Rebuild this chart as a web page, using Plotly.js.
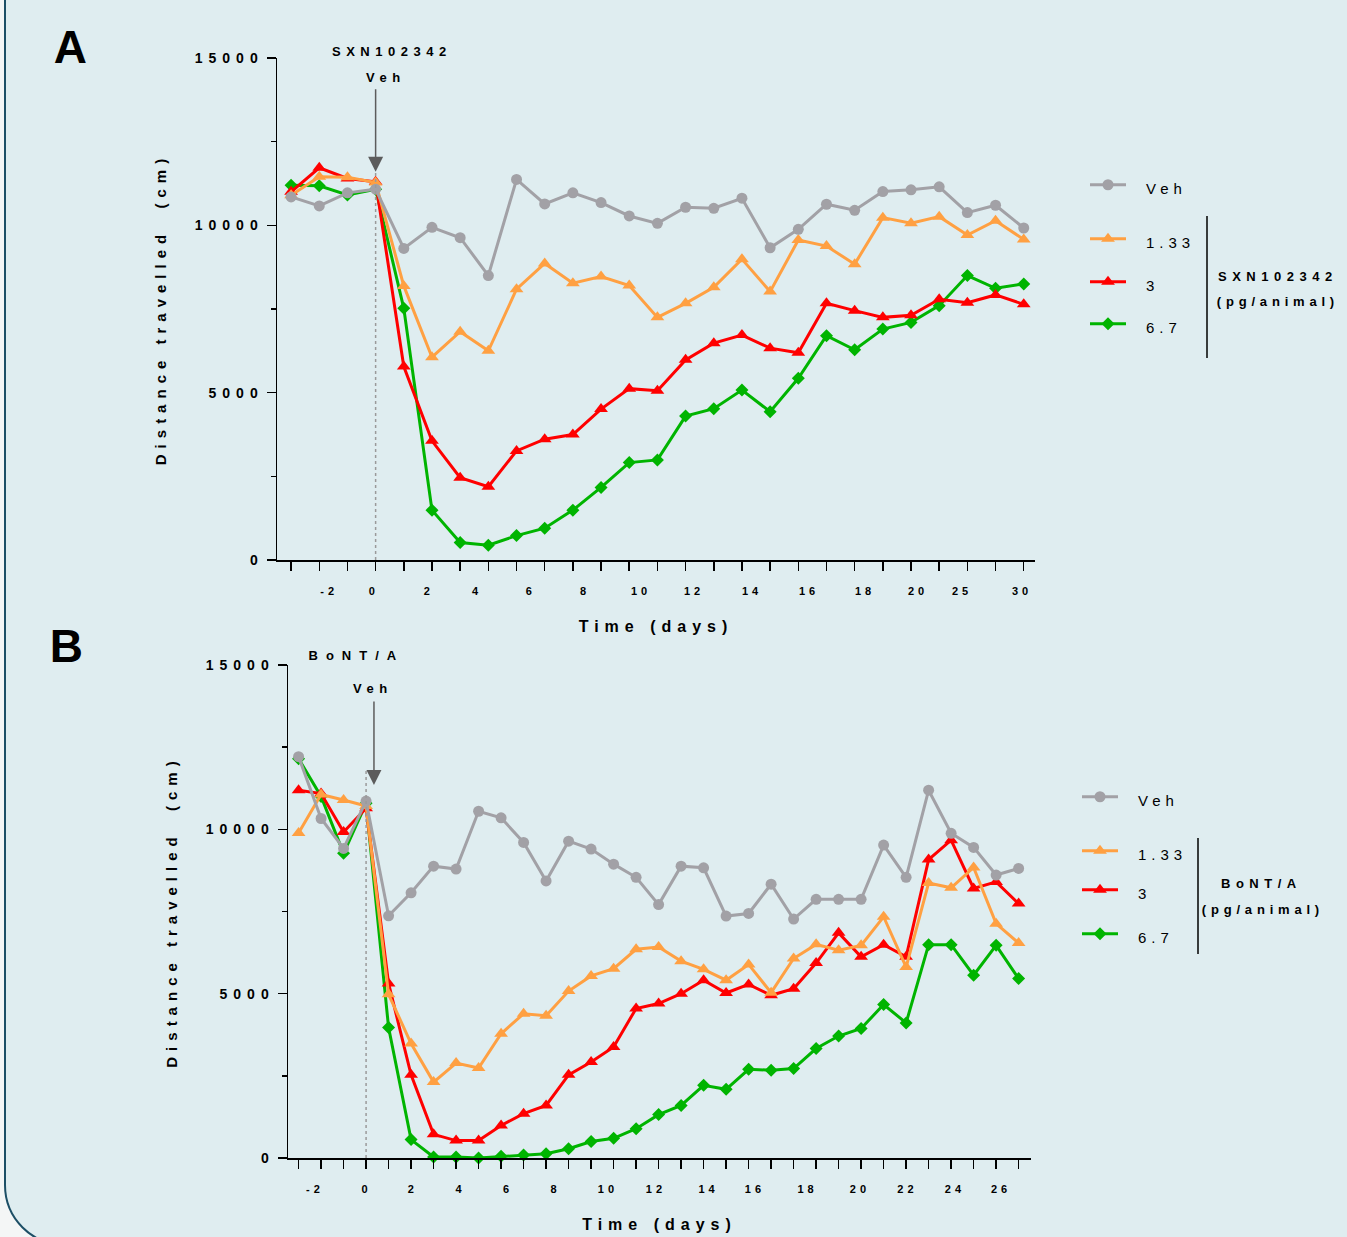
<!DOCTYPE html>
<html>
<head>
<meta charset="utf-8">
<script src="https://cdn.plot.ly/plotly-3.0.1.min.js"></script>
<style>
  html, body { margin: 0; padding: 0; background: #f4f6f6; }
  #chart { width: 1347px; height: 1237px; }
  /* spaced-out lettering used throughout the figure */
  g[class^="x"][class$="tick"] text { letter-spacing: 4px; }
  g[class^="y"][class$="tick"] text { letter-spacing: 6px; }
  text[class$="title"] { letter-spacing: 6px; }
  .infolayer g[class^="legend"] .scrollbox { clip-path: none !important; }
  .legendtext, .infolayer g[class^="legend"] text { letter-spacing: 5px; transform: translate(15px, 3px); }
  .annotation-text { letter-spacing: 5.5px; }
  g.annotation[data-index="0"] text, g.annotation[data-index="1"] text { letter-spacing: 0; }
  g.annotation[data-index="4"] text { letter-spacing: 8px; }
  g.annotation[data-index="9"] text, g.annotation[data-index="11"] text { letter-spacing: 4.8px; }
</style>
</head>
<body>
<div id="chart"></div>
<script>
// ---------- Panel A: SXN102342 ----------
const sessionA = [-3, -2, -1, 0, 1, 2, 3, 4, 5, 6, 7, 8, 9, 10, 11, 12, 13, 14, 15, 16, 17, 18, 19, 20, 21, 22, 23];
const vehA     = [10850, 10580, 10970, 11080, 9310, 9940, 9630, 8500, 11370, 10640, 10970, 10680, 10280, 10060, 10540, 10510, 10810, 9330, 9880, 10630, 10450, 11010, 11060, 11150, 10380, 10600, 9920];
const doseA133 = [10900, 11450, 11440, 11280, 8190, 6060, 6820, 6250, 8090, 8860, 8270, 8470, 8200, 7250, 7670, 8150, 8990, 8020, 9560, 9380, 8840, 10230, 10060, 10260, 9710, 10140, 9580];
const doseA3   = [11000, 11720, 11400, 11300, 5780, 3560, 2460, 2190, 3260, 3610, 3750, 4510, 5120, 5060, 5980, 6480, 6720, 6330, 6190, 7670, 7450, 7250, 7310, 7790, 7690, 7920, 7640];
const doseA67  = [11200, 11180, 10910, 11080, 7520, 1490, 520, 440, 730, 950, 1490, 2170, 2910, 2990, 4300, 4520, 5080, 4430, 5430, 6700, 6280, 6900, 7100, 7600, 8500, 8120, 8250];
const tickTextA = ['-2', '0', '2', '4', '6', '8', '10', '12', '14', '16', '18', '20', '25', '30'];
const tickPosA  = [-1.65, -0.06, 1.89, 3.6, 5.51, 7.43, 9.42, 11.3, 13.36, 15.38, 17.37, 19.25, 20.81, 22.94];

// ---------- Panel B: BoNT/A ----------
const sessionB = [-3, -2, -1, 0, 1, 2, 3, 4, 5, 6, 7, 8, 9, 10, 11, 12, 13, 14, 15, 16, 17, 18, 19, 20, 21, 22, 23, 24, 25, 26, 27, 28, 29];
const vehB     = [12210, 10330, 9420, 10860, 7370, 8070, 8880, 8790, 10550, 10350, 9600, 8430, 9640, 9400, 8940, 8540, 7710, 8880, 8830, 7360, 7440, 8330, 7270, 7870, 7870, 7870, 9520, 8540, 11190, 9880, 9450, 8610, 8810];
const doseB133 = [9890, 11060, 10890, 10710, 4980, 3480, 2310, 2890, 2740, 3780, 4390, 4330, 5080, 5540, 5760, 6350, 6420, 5990, 5740, 5410, 5890, 5030, 6070, 6500, 6320, 6470, 7340, 5810, 8370, 8220, 8840, 7130, 6540];
const doseB3   = [11190, 11090, 9920, 10640, 5310, 2530, 720, 530, 530, 990, 1350, 1600, 2530, 2920, 3380, 4550, 4700, 5000, 5410, 5020, 5280, 4950, 5150, 5930, 6850, 6120, 6490, 6120, 9080, 9670, 8200, 8400, 7740];
const doseB67  = [12150, 11000, 9270, 10790, 3970, 560, 30, 30, 0, 50, 90, 130, 280, 500, 600, 890, 1320, 1600, 2210, 2090, 2700, 2670, 2720, 3330, 3710, 3940, 4670, 4110, 6490, 6490, 5560, 6470, 5460];
const tickTextB = ['-2', '0', '2', '4', '6', '8', '10', '12', '14', '16', '18', '20', '22', '24', '26'];
const tickPosB  = [-2.27, 0.02, 2.08, 4.2, 6.31, 8.42, 10.75, 12.88, 15.22, 17.28, 19.62, 21.95, 24.06, 26.17, 28.22];

const groupNames = ['Veh', '1.33', '3', '6.7'];
const colors = ['#a2a1a6', '#ffa042', '#ff0000', '#00b400'];
const symbols = ['circle', 'triangle-up', 'triangle-up', 'diamond'];
const sizes = [11, 12, 12, 10];

const W = 1347, H = 1237;
const px = v => v / W;
const py = v => 1 - v / H;
const FONT = '"Liberation Sans", Arial, Helvetica, sans-serif';

function series(xs, ys, i, xa, ya, legendId) {
  return {
    x: xs, y: ys, name: groupNames[i], type: 'scatter', mode: 'lines+markers',
    xaxis: xa, yaxis: ya, legend: legendId, cliponaxis: false,
    line: { color: colors[i], width: 3 },
    marker: { symbol: symbols[i], size: sizes[i], color: colors[i] }
  };
}

// draw order: highest dose first, vehicle on top
const traces = [
  series(sessionA, doseA67, 3, 'x', 'y', 'legend4'),
  series(sessionA, doseA3, 2, 'x', 'y', 'legend3'),
  series(sessionA, doseA133, 1, 'x', 'y', 'legend2'),
  series(sessionA, vehA, 0, 'x', 'y', 'legend'),
  series(sessionB, doseB67, 3, 'x2', 'y2', 'legend8'),
  series(sessionB, doseB3, 2, 'x2', 'y2', 'legend7'),
  series(sessionB, doseB133, 1, 'x2', 'y2', 'legend6'),
  series(sessionB, vehB, 0, 'x2', 'y2', 'legend5')
];

function xAxis(domain, range, anchor, ticks, pos, text) {
  return {
    domain: domain, range: range, anchor: anchor,
    showline: true, linecolor: '#000', linewidth: 1.5,
    showgrid: false, zeroline: false, fixedrange: true,
    tickmode: 'array', tickvals: pos, ticktext: text,
    ticks: 'outside', ticklen: 20, tickcolor: 'rgba(0,0,0,0)',
    tickfont: { family: FONT, size: 11, weight: 'bold', color: '#000' },
    minor: { tickmode: 'array', tickvals: ticks, ticks: 'outside', ticklen: 9, tickwidth: 1.5, tickcolor: '#000' },
    title: { text: 'Time (days)', font: { family: FONT, size: 16, weight: 'bold', color: '#000' }, standoff: 25 }
  };
}

function yAxis(domain, anchor) {
  return {
    domain: domain, range: [0, 15000], anchor: anchor,
    showline: true, linecolor: '#000', linewidth: 1.5,
    showgrid: false, zeroline: false, fixedrange: true,
    tickmode: 'array', tickvals: [0, 5000, 10000, 15000], ticktext: ['0', '5000', '10000', '15000'],
    ticks: 'outside', ticklen: 9, tickwidth: 1.5, tickcolor: '#000',
    tickfont: { family: FONT, size: 14, weight: 'bold', color: '#000' },
    minor: { dtick: 2500, ticks: 'outside', ticklen: 5, tickwidth: 1.5, tickcolor: '#000' },
    title: { text: 'Distance travelled  (cm)', font: { family: FONT, size: 15, weight: 'bold', color: '#000' }, standoff: 24 }
  };
}

function legendBox(xPix, yPix) {
  return {
    x: px(xPix), y: py(yPix), xanchor: 'left', yanchor: 'middle',
    bgcolor: 'rgba(0,0,0,0)', borderwidth: 0, itemwidth: 36,
    font: { family: FONT, size: 15, color: '#000' }
  };
}

function note(text, xPix, yPix, size, bold) {
  return {
    text: text, xref: 'paper', yref: 'paper', x: px(xPix), y: py(yPix),
    xanchor: 'center', yanchor: 'middle', showarrow: false,
    font: { family: FONT, size: size, weight: bold ? 'bold' : 'normal', color: '#000' }
  };
}

function doseArrow(xa, ya, xVal, tipVal, len) {
  return {
    text: '', xref: xa, yref: ya, x: xVal, y: tipVal, ax: 0, ay: -len,
    showarrow: true, arrowhead: 2, arrowsize: 2, arrowwidth: 1.5, arrowcolor: '#5c5c5c'
  };
}

// rounded panel frame (left edge and lower-left corner visible)
const k = 0.5523, R = 60;
const framePath = 'M' + px(5) + ',' + py(-20) +
  ' L' + px(5) + ',' + py(1185) +
  ' C' + px(5) + ',' + py(1185 + R * k) + ' ' + px(65 - R * k) + ',' + py(1245) + ' ' + px(65) + ',' + py(1245) +
  ' L' + px(1400) + ',' + py(1245) + ' L' + px(1400) + ',' + py(-20) + ' Z';

const layout = {
  width: W, height: H,
  margin: { l: 0, r: 0, t: 0, b: 0 },
  paper_bgcolor: '#f4f6f6',
  plot_bgcolor: 'rgba(0,0,0,0)',
  font: { family: FONT, color: '#000' },
  showlegend: true,
  xaxis: xAxis([px(277), px(1035)], [-3.5, 23.4], 'y', sessionA, tickPosA, tickTextA),
  yaxis: yAxis([py(560), py(58)], 'x'),
  xaxis2: xAxis([px(288), px(1031)], [-3.47, 29.55], 'y2', sessionB, tickPosB, tickTextB),
  yaxis2: yAxis([py(1158), py(665)], 'x2'),
  legend: legendBox(1085, 185),
  legend2: legendBox(1085, 239),
  legend3: legendBox(1085, 282),
  legend4: legendBox(1085, 324),
  legend5: legendBox(1077, 797),
  legend6: legendBox(1077, 851),
  legend7: legendBox(1077, 890),
  legend8: legendBox(1077, 934),
  shapes: [
    { type: 'path', path: framePath, xref: 'paper', yref: 'paper', layer: 'below',
      fillcolor: '#dfedf0', line: { color: '#1d4f66', width: 2 } },
    // dosing day markers
    { type: 'line', xref: 'x', yref: 'y', x0: 0, x1: 0, y0: 0, y1: 11600,
      line: { color: '#9a9a9a', width: 1.5, dash: 'dot' } },
    { type: 'line', xref: 'x2', yref: 'y2', x0: 0, x1: 0, y0: 0, y1: 11800,
      line: { color: '#9a9a9a', width: 1.5, dash: 'dot' } },
    // legend brackets
    { type: 'line', xref: 'paper', yref: 'paper', x0: px(1207), x1: px(1207), y0: py(216), y1: py(358),
      line: { color: '#000', width: 1.5 } },
    { type: 'line', xref: 'paper', yref: 'paper', x0: px(1198), x1: px(1198), y0: py(838), y1: py(954),
      line: { color: '#000', width: 1.5 } }
  ],
  annotations: [
    note('A', 70, 47, 46, true),
    note('B', 66, 646, 46, true),
    note('SXN102342', 392, 51, 13, true),
    note('Veh', 386, 78, 13, true),
    note('BoNT/A', 356, 655, 13, true),
    note('Veh', 373, 688, 13, true),
    doseArrow('x', 'y', 0, 11600, 84),
    doseArrow('x2', 'y2', 0.35, 11350, 85),
    note('SXN102342', 1278, 276, 13, true),
    note('(pg/animal)', 1278, 302, 13, true),
    note('BoNT/A', 1261, 883, 13, true),
    note('(pg/animal)', 1263, 909, 13, true)
  ]
};

Plotly.newPlot('chart', traces, layout, { staticPlot: true, displayModeBar: false });
</script>
</body>
</html>
